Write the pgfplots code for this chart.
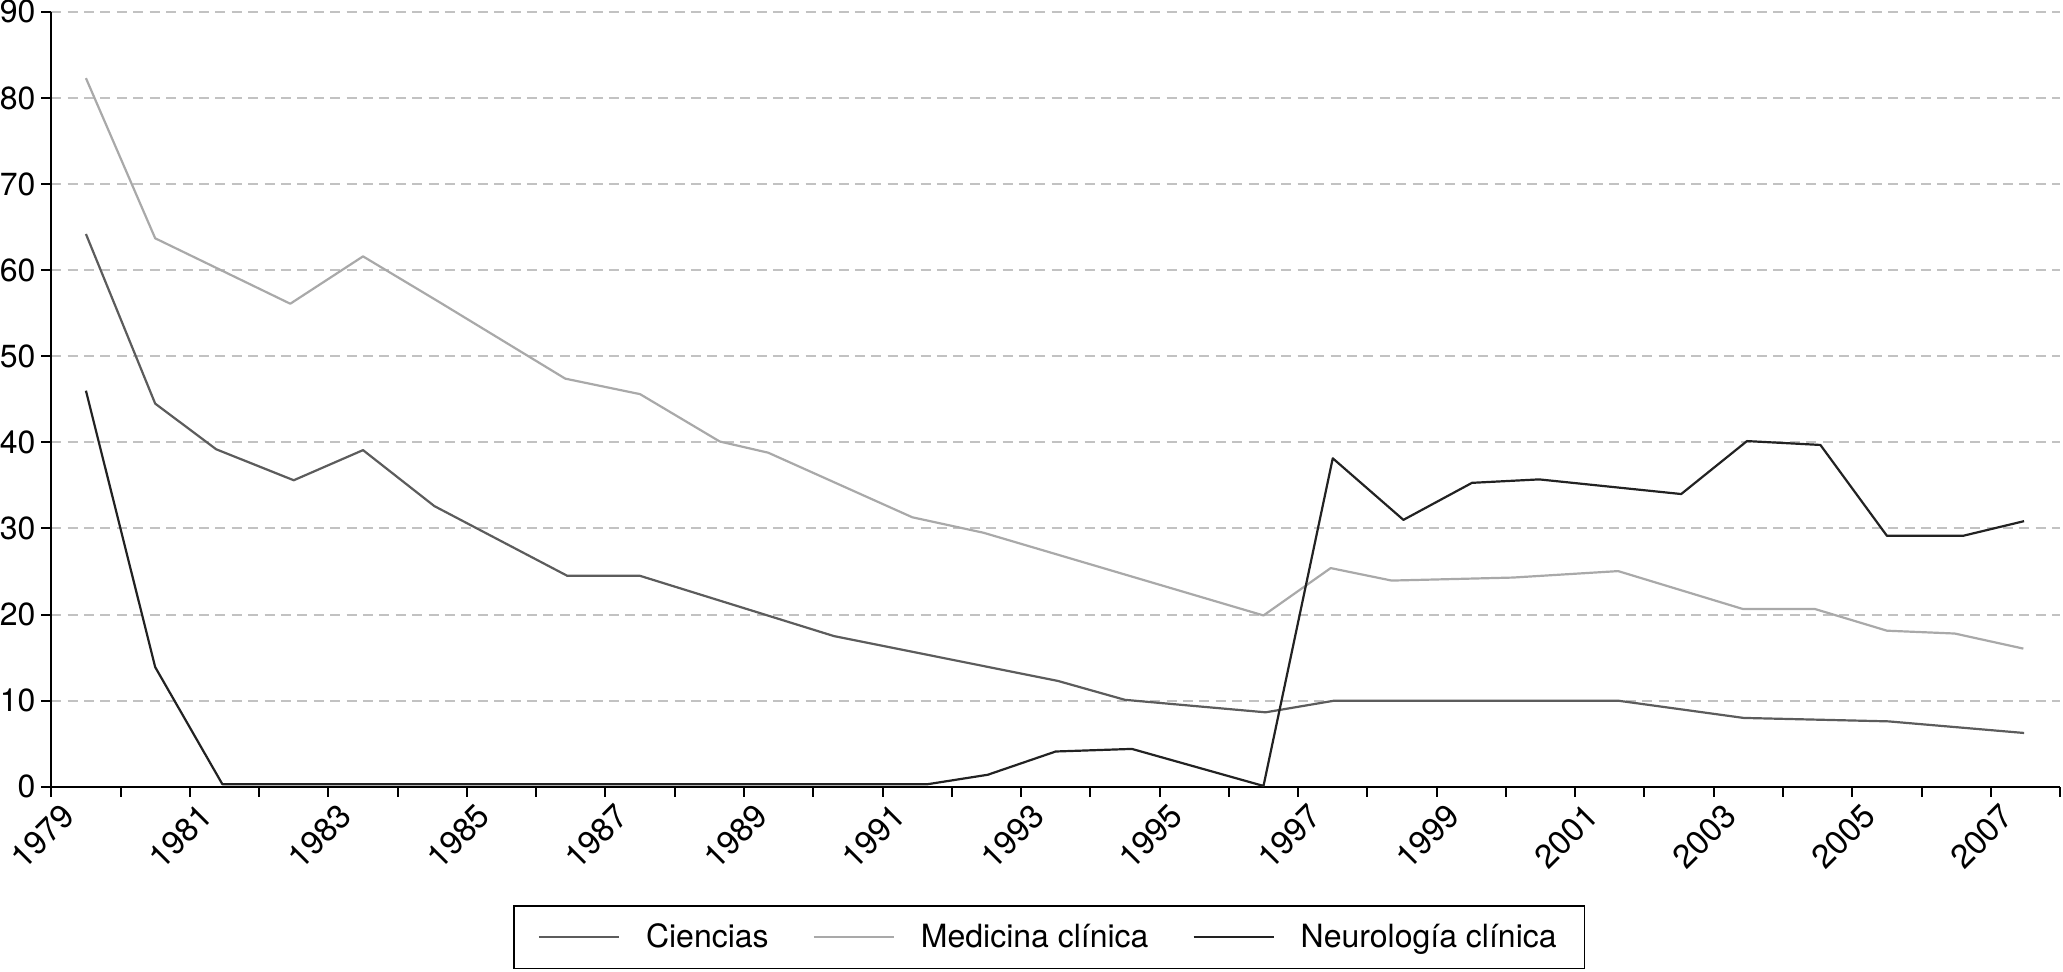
\documentclass[border=0pt]{standalone}
\usepackage{fontspec}
\setmainfont{TeX Gyre Heros}
\usepackage{pgfplots}
\usepackage{pgfplotstable}
\pgfplotsset{compat=1.18}
\definecolor{cien}{HTML}{5C5C5C}
\definecolor{medi}{HTML}{A9A9A9}
\definecolor{neur}{HTML}{222222}
\definecolor{gridc}{HTML}{C2C2C2}

\pgfplotstableread{
x y
1979.5 64.2
1980.5 44.5
1981.38 39.2
1982.5 35.6
1983.5 39.1
1984.53 32.6
1986.45 24.5
1987.5 24.5
1990.3 17.5
1993.53 12.3
1994.5 10.1
1996.53 8.65
1997.52 10.0
2001.62 10.0
2003.43 8.0
2005.52 7.6
2007.48 6.25
}\ciencias

\pgfplotstableread{
x y
1979.5 82.3
1980.5 63.7
1982.45 56.1
1983.5 61.6
1984.6 56.3
1986.42 47.4
1987.5 45.6
1988.65 40.1
1989.35 38.8
1991.43 31.3
1992.46 29.5
1996.5 19.9
1997.47 25.4
1998.35 23.95
2000.1 24.3
2001.62 25.05
2003.42 20.65
2004.46 20.65
2005.5 18.13
2006.48 17.8
2007.47 16.05
}\medicina

\pgfplotstableread{
x y
1979.5 46.0
1980.5 13.9
1981.47 0.3
1991.65 0.3
1992.52 1.4
1993.5 4.1
1994.6 4.4
1996.5 0.1
1997.5 38.15
1998.52 31.0
1999.51 35.3
2000.48 35.7
2002.53 34.0
2003.48 40.15
2004.54 39.7
2005.5 29.15
2006.6 29.15
2007.48 30.85
}\neurologia

\begin{document}
\begin{tikzpicture}
\useasboundingbox (-25.65pt,-92.1pt) rectangle (1005.85pt,393.4pt);
\begin{axis}[
  at={(0pt,0pt)}, anchor=south west,
  scale only axis, width=1004.4pt, height=387.5pt,
  xmin=1979, xmax=2008, ymin=0, ymax=90,
  axis x line*=bottom, axis y line*=left,
  axis line style={line width=1.2pt, black},
  tick align=outside,
  major tick length=5pt, minor tick length=5pt,
  tick style={line width=1pt, black},
  xtick={1979,1981,...,2007},
  minor xtick={1980,1982,...,2008},
  ytick={0,10,...,90},
  ymajorgrids,
  grid style={gridc, line width=1pt, dash pattern=on 5pt off 3.2pt},
  /pgf/number format/1000 sep={},
  /pgf/number format/assume math mode=true,
  xticklabel style={font=\fontsize{16.5}{19}\selectfont, rotate=45, anchor=north east, inner sep=0pt, xshift=1.5pt, yshift=-4.5pt},
  yticklabel style={font=\fontsize{16}{19}\selectfont, inner sep=0pt, xshift=-2.7pt},
  no markers,
  legend columns=3,
  legend style={
    at={(0.4968,-0.1525)}, anchor=north,
    draw=black, line width=0.8pt,
    font=\fontsize{16}{19}\selectfont,
    inner xsep=12pt, inner ysep=7pt,
    /tikz/every odd column/.append style={column sep=11pt},
    /tikz/every even column/.append style={column sep=20pt},
  },
  legend image code/.code={\draw[#1, line width=1.1pt] (0pt,0pt) -- (40pt,0pt);},
]
\addplot[cien, line width=1.1pt, line join=round] table[x=x,y=y] {\ciencias};
\addlegendentry{Ciencias}
\addplot[medi, line width=1.1pt, line join=round] table[x=x,y=y] {\medicina};
\addlegendentry{Medicina clínica}
\addplot[neur, line width=1.1pt, line join=round] table[x=x,y=y] {\neurologia};
\addlegendentry{Neurología clínica}
\end{axis}
\end{tikzpicture}
\end{document}
